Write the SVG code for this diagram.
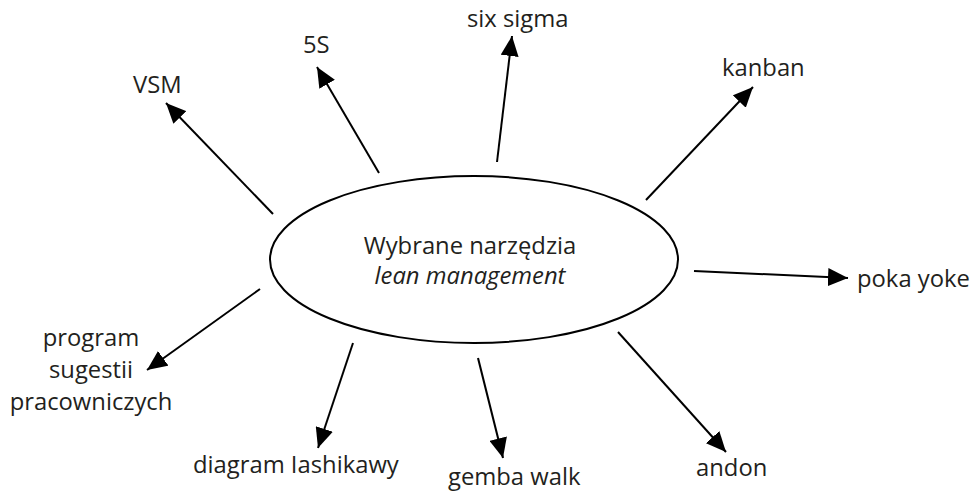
<svg xmlns="http://www.w3.org/2000/svg" width="975" height="492" viewBox="0 0 975 492">
<defs>
<marker id="ah" viewBox="0 0 20 18" refX="20" refY="9" markerWidth="20" markerHeight="18" markerUnits="userSpaceOnUse" orient="auto">
<path d="M0,0 L20,9 L0,18 Z" fill="#000"/>
</marker>
<style>
.t{font-family:"Open Sans","Noto Sans",sans-serif;font-size:23.8px;fill:#231f20}
.c{stroke:#000;stroke-width:2;fill:none;marker-end:url(#ah)}
</style>
</defs>
<rect width="975" height="492" fill="#fff"/>
<g id="center">
<ellipse cx="474" cy="259.5" rx="204" ry="83.5" fill="none" stroke="#000" stroke-width="2"/>
<text class="t" x="470" y="254" text-anchor="middle">Wybrane narzędzia</text>
<text class="t" x="470" y="284" text-anchor="middle" font-style="italic">lean management</text>
</g>
<g id="connectors">
<line class="c" x1="273" y1="214" x2="166" y2="103"/>
<line class="c" x1="379" y1="173" x2="317" y2="67"/>
<line class="c" x1="497" y1="162" x2="512" y2="36"/>
<line class="c" x1="646" y1="200" x2="753" y2="87"/>
<line class="c" x1="694" y1="271" x2="848" y2="278"/>
<line class="c" x1="618" y1="332" x2="726" y2="452"/>
<line class="c" x1="478" y1="358" x2="503" y2="458"/>
<line class="c" x1="353" y1="343" x2="318" y2="448"/>
<line class="c" x1="260" y1="289" x2="147" y2="370"/>
</g>
<g id="vsm"><text class="t" x="133" y="93">VSM</text></g>
<g id="n5s"><text class="t" x="303" y="53">5S</text></g>
<g id="sixsigma"><text class="t" x="467" y="27">six sigma</text></g>
<g id="kanban"><text class="t" x="722" y="76">kanban</text></g>
<g id="pokayoke"><text class="t" x="857" y="287">poka yoke</text></g>
<g id="andon"><text class="t" x="696" y="476">andon</text></g>
<g id="gemba"><text class="t" x="448" y="485">gemba walk</text></g>
<g id="ishikawa"><text class="t" x="193" y="473">diagram Iashikawy</text></g>
<g id="program">
<text class="t" x="91" y="346" text-anchor="middle">program</text>
<text class="t" x="91" y="378" text-anchor="middle">sugestii</text>
<text class="t" x="91" y="410" text-anchor="middle">pracowniczych</text>
</g>
</svg>
